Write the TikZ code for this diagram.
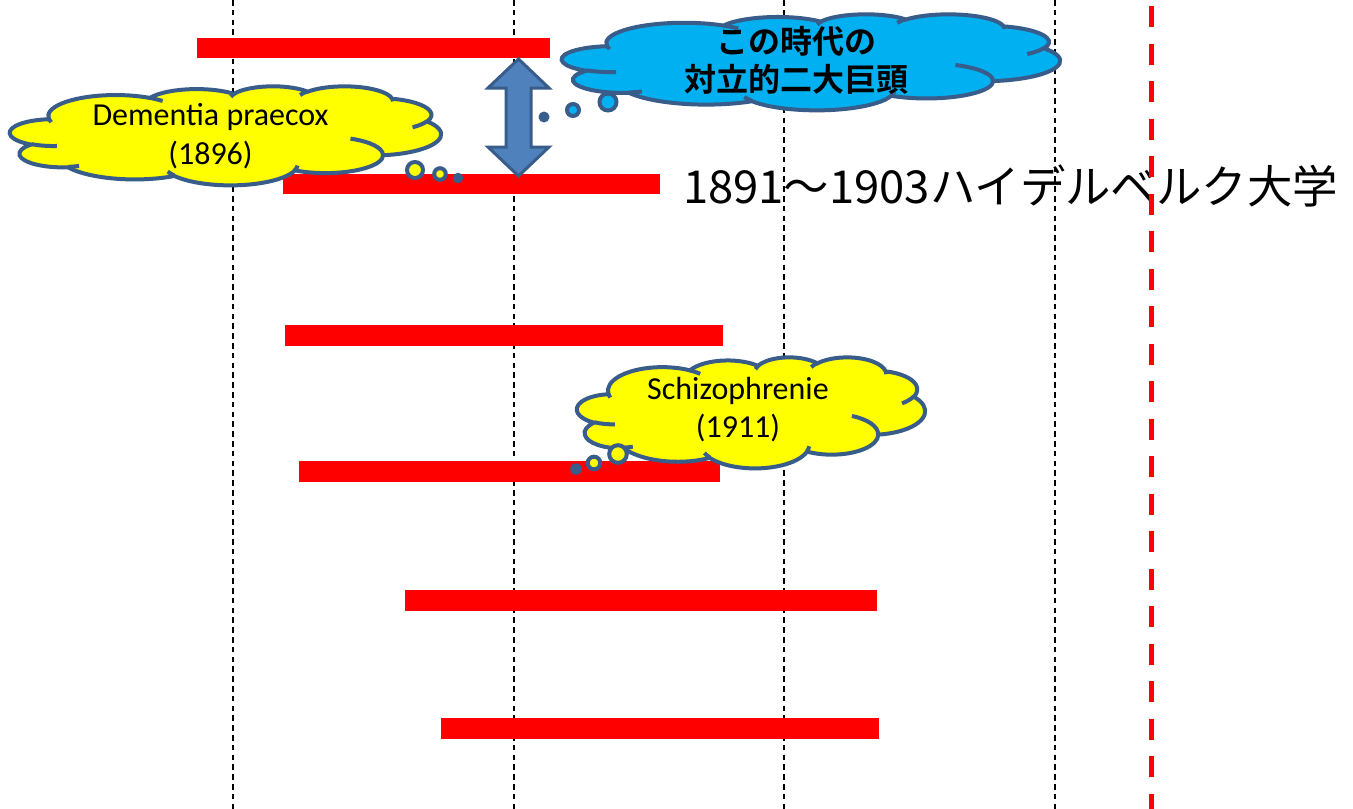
\documentclass[tikz,border=0pt]{standalone}
\usepackage{fontspec}
\newfontfamily\carl{Carlito}
\newfontfamily\jp{Noto Sans CJK JP}[BoldFont={Noto Sans CJK JP Bold}]
\definecolor{cline}{HTML}{385D8A}
\definecolor{arrowfill}{HTML}{4F81BD}
\definecolor{skyblue}{HTML}{00B0F0}
\definecolor{yel}{HTML}{FFFF00}
\definecolor{barred}{HTML}{FF0000}
\tikzset{
  ca/.style n args={4}{x radius=#1, y radius=#2,
    start angle={atan2(#1*sin(#3),#2*cos(#3))+360*round(((#3)-atan2(#1*sin(#3),#2*cos(#3)))/360)},
    end angle={atan2(#1*sin(#3+#4),#2*cos(#3+#4))+360*round(((#3+#4)-atan2(#1*sin(#3+#4),#2*cos(#3+#4)))/360)}},
  gridline/.style={black, line width=1.4pt, dash pattern=on 5.6pt off 4.2pt},
  redline/.style={barred, line width=5pt, dash pattern=on 21pt off 16.5pt},
  bar/.style={fill=barred},
  latintxt/.style={font=\carl\fontsize{32}{39}\selectfont, inner sep=0pt, anchor=base},
  jptxt/.style={font=\jp\bfseries\fontsize{32}{38}\selectfont, inner sep=0pt, anchor=base},
  bigtxt/.style={font=\jp\fontsize{45.4}{54}\selectfont, inner sep=0pt, anchor=base west},
  bubble/.style={draw=cline, line width=4pt},
  dot/.style={fill=cline},
}
\newcommand\pptcloud[5]{%
  \pgfmathsetmacro\cldw{#4/43.2}\pgfmathsetmacro\cldh{#5/43.2}%
  \begin{scope}[shift={(#2,#3)}, x=\cldw pt, y=-\cldh pt, line width=4pt]
    \path[fill=#1, draw=cline] (3.9,14.37)
      arc[ca={6.753}{9.19}{-190.48748}{123.78053}]
      arc[ca={5.333}{7.267}{-144.10238}{89.94523}]
      arc[ca={4.365}{5.945}{-145.80792}{99.72302}]
      arc[ca={4.857}{6.595}{-130.98607}{117.24173}]
      arc[ca={5.333}{7.273}{-78.70888}{109.02692}]
      arc[ca={6.775}{9.22}{-46.26725}{130.269}]
      arc[ca={5.785}{7.867}{0.62502}{114.03333}]
      arc[ca={6.752}{9.215}{22.4516}{115.17255}]
      arc[ca={7.72}{10.543}{66.24263}{75.71102}]
      arc[ca={4.36}{5.918}{-274.94208}{146.73557}]
      arc[ca={4.345}{5.945}{-246.8285}{152.51885}] -- cycle;
    \draw[cline]
      (4.693,26.177) arc[ca={4.345}{5.945}{86.742}{26.4295}]
      (6.928,34.899) arc[ca={4.36}{5.918}{73.61047}{11.44747}]
      (16.478,39.09) arc[ca={6.752}{9.215}{137.62415}{14.0811}]
      (28.827,34.751) arc[ca={6.752}{9.215}{6.45327}{15.99835}]
      (34.129,22.954) arc[ca={5.785}{7.867}{-70.29235}{70.91737}]
      (41.798,15.354) arc[ca={5.333}{7.273}{30.31803}{27.7515}]
      (38.324,5.426) arc[ca={4.857}{6.595}{-13.74433}{14.86042}]
      (29.078,3.952) arc[ca={4.857}{6.595}{-149.18145}{18.19535}]
      (22.141,4.72) arc[ca={4.365}{5.945}{-163.49427}{17.69925}]
      (14,5.192) arc[ca={6.753}{9.19}{-66.70695}{12.31935}]
      (4.127,15.789) arc[ca={6.753}{9.19}{157.65435}{11.85817}];
  \end{scope}}
\begin{document}
\begin{tikzpicture}[x=1pt, y=-1pt]
  \useasboundingbox[fill=white] (0,0) rectangle (1353,809);
  % big label
  \node[bigtxt] (heid) at (683,203) {1891～1903ハイデルベルク大学};
  % vertical grid lines
  \foreach \gx/\gn in {233/a,514/b,784/c,1055/d}{
    \coordinate (g\gn t) at (\gx,0);
    \coordinate (g\gn b) at (\gx,809);
    \draw[gridline] (g\gn t) -- (g\gn b);
  }
  % red bars
  \fill[bar] (197,38) rectangle (550,58);
  \fill[bar] (283,174) rectangle (660,194);
  \fill[bar] (285,325) rectangle (723,346);
  \fill[bar] (299,461) rectangle (720,482);
  \fill[bar] (405,590) rectangle (877,611);
  \fill[bar] (441,718) rectangle (879,739);
  % double arrow
  \filldraw[fill=arrowfill, draw=cline, line width=3pt, line join=miter]
    (518.5,59) -- (549,88) -- (531,88) -- (531,147) -- (549,147) -- (518.5,176)
    -- (488,147) -- (506,147) -- (506,88) -- (488,88) -- cycle;
  % clouds
  \pptcloud{yel}{10}{86}{431}{99}
  \node[latintxt] (dp1) at (210.5,125) {Dementia praecox};
  \node[latintxt] (dp2) at (210.5,164) {(1896)};
  \filldraw[bubble, fill=yel] (415,170) circle (8);
  \filldraw[bubble, fill=yel] (440,174) circle (5.8);
  \fill[dot] (458,178) circle (5.3);

  \pptcloud{skyblue}{562}{14}{498}{96}
  \node[jptxt] (jp1) at (796,53) {この時代の};
  \node[jptxt] (jp2) at (796,91) {対立的二大巨頭};
  \fill[dot] (544,117) circle (5.5);
  \filldraw[bubble, fill=skyblue] (573,110) circle (6);
  \filldraw[bubble, fill=skyblue] (608,102) circle (8.5);

  \pptcloud{yel}{577}{357}{348}{111}
  \node[latintxt] (sc1) at (738,399) {Schizophrenie};
  \node[latintxt] (sc2) at (738,437) {(1911)};
  \fill[dot] (576,469) circle (5.8);
  \filldraw[bubble, fill=yel] (594,463) circle (6.3);
  \filldraw[bubble, fill=yel] (618,454) circle (8.8);
  % red dashed line
  \coordinate (rt) at (1151,6);
  \coordinate (rb) at (1151,809);
  \draw[redline] (rt) -- (rb);
\end{tikzpicture}
\end{document}
